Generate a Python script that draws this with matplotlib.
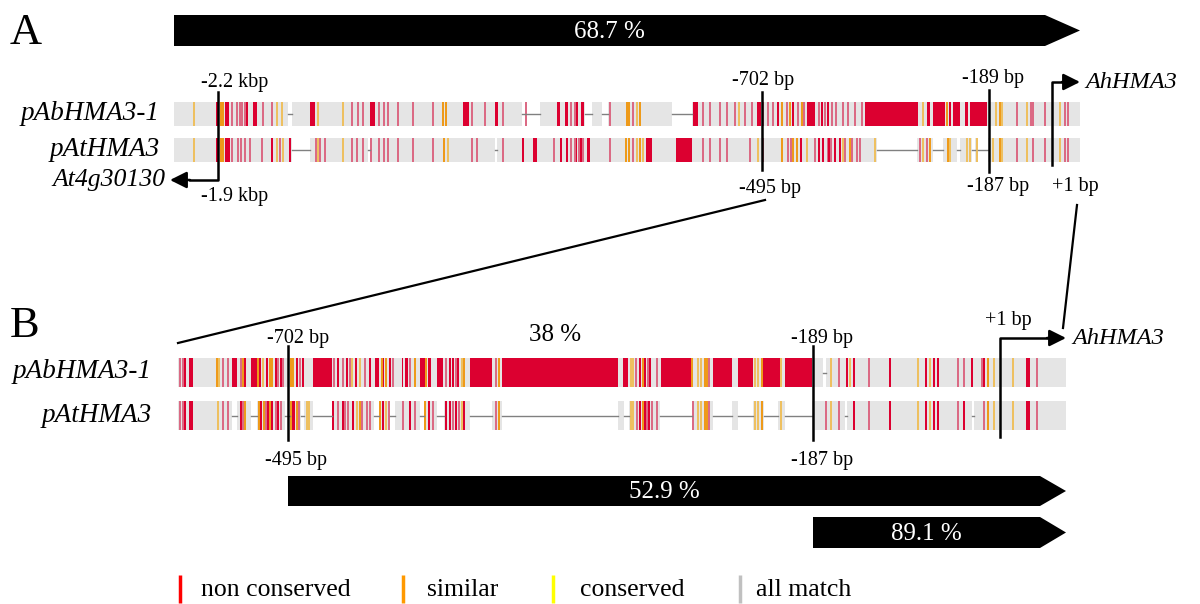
import matplotlib
matplotlib.use("Agg")
import matplotlib.pyplot as plt

plt.rcParams['font.family'] = ['Liberation Serif', 'DejaVu Serif']

# colours
GREY = '#E5E5E5'
LINE = '#808080'
RED = '#DC0030'
PINK = '#DB6A84'
ORANGE = '#EE9A1A'
YELLOW = '#EEC060'

# ---- panel A, pAbHMA3-1 (alignment positions) ----
A1_span = (174, 1080)
A1_gaps = [(288, 292), (522, 540), (585, 592), (602, 608), (672, 692)]
A1_blocks = [(216, 219), (225, 229), (253, 257), (310, 315), (370, 375), (463, 469), (495, 498),
             (557, 560), (565, 568), (575, 578), (581, 584), (693, 698), (757, 761), (807, 815),
             (865, 918), (927, 930), (933, 945), (953, 960), (965, 968), (970, 987)]
A1_red = [247, 778, 793, 822, 828, 950]
A1_pink = [232, 237, 240, 242, 245, 263, 272, 352, 358, 363, 379, 384, 388, 398, 413, 433, 472,
           485, 503, 526, 571, 575, 610, 633, 703, 710, 720, 727, 735, 745, 752, 763, 768, 773,
           787, 798, 804, 819, 825, 832, 836, 843, 848, 855, 862, 1017, 1031, 1033, 1045, 1065, 1068]
A1_orange = [221, 223, 443, 446, 627, 629, 640, 782, 790, 802, 947, 1000]
A1_yellow = [194, 277, 282, 318, 343, 637, 739, 923, 996, 1002, 1027, 1060]

# ---- panel A, pAtHMA3 ----
A2_span = (174, 1080)
A2_gaps = [(292, 310), (368, 370), (495, 497), (877, 917), (933, 943), (957, 960), (972, 975), (978, 988)]
A2_blocks = [(216, 219), (225, 230), (271, 273), (289, 291), (522, 524), (533, 537), (560, 562),
             (566, 568), (574, 577), (580, 583), (587, 590), (646, 652), (676, 692), (800, 802), (818, 820)]
A2_red = [823, 829, 835, 840]
A2_pink = [232, 238, 241, 245, 250, 262, 280, 316, 320, 325, 352, 357, 363, 371, 379, 384, 388, 398,
           413, 433, 472, 477, 503, 554, 571, 575, 579, 583, 610, 633, 703, 710, 720, 727, 750, 763,
           788, 791, 815, 828, 831, 845, 852, 857, 860, 920, 927, 1017, 1033, 1045, 1065, 1068]
A2_orange = [221, 223, 444, 626, 629, 640, 782, 793, 797, 850, 930, 948, 1000]
A2_yellow = [194, 277, 283, 318, 343, 448, 637, 643, 758, 807, 843, 875, 923, 950, 967, 970, 977,
             993, 1002, 1027, 1060]

# ---- panel B, pAbHMA3-1 ----
B1_span = (178, 1066)
B1_gaps = [(823, 826)]
B1_blocks = [(189, 193), (232, 237), (251, 257), (313, 332), (355, 357), (375, 379), (402, 403),
             (405, 408), (420, 425), (428, 431), (437, 443), (470, 492), (502, 618), (623, 628),
             (661, 692), (713, 732), (738, 753), (763, 780), (785, 812)]
B1_red = [185, 245, 260, 267, 276, 281, 297, 303, 338, 347, 370, 383, 390, 450, 453, 458, 464, 640,
          645, 650, 847, 854, 890, 926, 934, 938, 972, 984, 1027, 1029]
B1_pink = [180, 183, 223, 228, 241, 278, 283, 300, 334, 343, 350, 365, 393, 410, 446, 456, 496, 636,
           648, 657, 709, 839, 869, 958, 964, 982, 1037]
B1_orange = [217, 243, 258, 270, 272, 291, 293, 382, 386, 415, 426, 464, 499, 643, 692, 705, 707, 762, 988]
B1_yellow = [219, 263, 352, 360, 462, 631, 633, 698, 701, 755, 758, 781, 831, 850, 918, 930, 994, 1013]

# ---- panel B, pAtHMA3 ----
B2_span = (178, 1066)
B2_gaps = [(232, 237), (251, 257), (285, 290), (301, 304), (313, 332), (374, 379), (390, 395),
           (420, 424), (437, 444), (470, 492), (502, 618), (624, 629), (660, 692), (713, 732),
           (738, 753), (764, 778), (785, 812), (845, 847), (972, 974)]
B2_blocks = [(189, 193), (292, 295), (428, 430)]
B2_red = [185, 241, 261, 268, 272, 278, 333, 343, 353, 383, 410, 446, 450, 456, 463, 464, 640, 645,
          649, 854, 890, 926, 934, 938, 964, 1027, 1029]
B2_pink = [180, 183, 223, 228, 243, 266, 276, 281, 299, 338, 345, 348, 362, 367, 370, 389, 403, 415,
           433, 453, 459, 496, 637, 647, 652, 657, 693, 709, 826, 839, 869, 958, 984, 1037]
B2_orange = [245, 259, 264, 270, 291, 297, 360, 380, 425, 499, 643, 705, 707, 762, 988]
B2_yellow = [218, 307, 309, 357, 386, 462, 631, 633, 698, 701, 755, 758, 781, 831, 918, 930, 994, 1013]

identity = ["68.7 %", "52.9 %", "89.1 %", "38 %"]
legend_labels = ["non conserved", "similar", "conserved", "all match"]
legend_colors = ['#FF0000', '#FF9900', '#FFFF00', '#C0C0C0']

fig = plt.figure(figsize=(12, 6.04), dpi=100)
ax = fig.add_axes([0, 0, 1, 1])
ax.set_xlim(0, 1200)
ax.set_ylim(604, 0)
ax.axis('off')


def track(y, h, span, gaps, blocks, red, pink, orange, yellow):
    ax.broken_barh([(span[0], span[1] - span[0])], (y, h), facecolors=GREY)
    for g0, g1 in gaps:
        ax.broken_barh([(g0, g1 - g0)], (y, h), facecolors='white')
        ax.plot([g0, g1], [y + h / 2] * 2, color=LINE, lw=1)
    ax.broken_barh([(a, b - a) for a, b in blocks], (y, h), facecolors=RED)
    for xs, c in ((pink, PINK), (red, RED), (orange, ORANGE), (yellow, YELLOW)):
        ax.broken_barh([(x - 1, 2) for x in xs], (y, h), facecolors=c)


def big_arrow(x0, x1, y0, y1, head, label):
    yc = (y0 + y1) / 2
    ax.fill([x0, x1 - head, x1, x1 - head, x0], [y0, y0, yc, y1, y1], color='black', lw=0)
    ax.text((x0 + x1 - head) / 2, yc + 1, label, color='white', fontsize=18, ha='center', va='center')


def head(x0, y0, x1, y1):
    ax.annotate('', xy=(x1, y1), xytext=(x0, y0),
                arrowprops=dict(arrowstyle='-|>,head_length=1.0,head_width=0.5', lw=1.8,
                                color='black', shrinkA=0, shrinkB=0))


BP = 14.5

# panel A
ax.text(10, 33, "A", fontsize=32, va='center')
big_arrow(174, 1080, 15, 46, 35, identity[0])
track(102, 24, A1_span, A1_gaps, A1_blocks, A1_red, A1_pink, A1_orange, A1_yellow)
track(138, 24, A2_span, A2_gaps, A2_blocks, A2_red, A2_pink, A2_orange, A2_yellow)
ax.text(160, 114, "pAbHMA3-1", fontsize=19.5, style='italic', ha='right', va='center')
ax.text(160, 150, "pAtHMA3", fontsize=19.5, style='italic', ha='right', va='center')

ax.plot([218, 218, 190], [92, 180, 180], color='black', lw=1.8)
head(190, 180, 170, 180)
ax.text(165, 180, "At4g30130", fontsize=18.5, style='italic', ha='right', va='center')
ax.text(235, 82, "-2.2 kbp", fontsize=BP, ha='center', va='center')
ax.text(235, 196, "-1.9 kbp", fontsize=BP, ha='center', va='center')

ax.plot([762, 762], [92, 170], color='black', lw=1.8)
ax.text(763, 81, "-702 bp", fontsize=BP, ha='center', va='center')
ax.text(770, 188, "-495 bp", fontsize=BP, ha='center', va='center')

ax.plot([989, 989], [90, 172], color='black', lw=1.8)
ax.text(993, 79, "-189 bp", fontsize=BP, ha='center', va='center')
ax.text(998, 187, "-187 bp", fontsize=BP, ha='center', va='center')

ax.plot([1052, 1052, 1062], [165, 82, 82], color='black', lw=1.8)
head(1062, 82, 1080, 82)
ax.text(1075, 187, "+1 bp", fontsize=BP, ha='center', va='center')
ax.text(1085, 82, "AhHMA3", fontsize=17.5, style='italic', ha='left', va='center')

# zoom lines
ax.plot([178, 765], [343, 200], color='black', lw=1.6)
ax.plot([1077, 1063], [205, 328], color='black', lw=1.6)

# panel B
ax.text(10, 326, "B", fontsize=32, va='center')
track(358, 29, B1_span, B1_gaps, B1_blocks, B1_red, B1_pink, B1_orange, B1_yellow)
track(401, 29, B2_span, B2_gaps, B2_blocks, B2_red, B2_pink, B2_orange, B2_yellow)
ax.text(152, 372, "pAbHMA3-1", fontsize=19.5, style='italic', ha='right', va='center')
ax.text(152, 416, "pAtHMA3", fontsize=19.5, style='italic', ha='right', va='center')
ax.text(555, 335, identity[3], fontsize=18, ha='center', va='center')

ax.plot([288, 288], [346, 440], color='black', lw=1.8)
ax.text(298, 338, "-702 bp", fontsize=BP, ha='center', va='center')
ax.text(296, 460, "-495 bp", fontsize=BP, ha='center', va='center')

ax.plot([813, 813], [346, 440], color='black', lw=1.8)
ax.text(822, 338, "-189 bp", fontsize=BP, ha='center', va='center')
ax.text(822, 460, "-187 bp", fontsize=BP, ha='center', va='center')

ax.plot([1000, 1000, 1047], [437, 338, 338], color='black', lw=1.8)
head(1047, 338, 1066, 338)
ax.text(1008, 321, "+1 bp", fontsize=BP, ha='center', va='center')
ax.text(1072, 338, "AhHMA3", fontsize=17.5, style='italic', ha='left', va='center')

big_arrow(288, 1066, 476, 506, 26, identity[1])
big_arrow(813, 1066, 517, 548, 26, identity[2])

# legend
legend_x = [180, 403, 553, 740]
legend_pad = [21, 24, 27, 16]
for lx, pad, lab, col in zip(legend_x, legend_pad, legend_labels, legend_colors):
    ax.plot([lx, lx], [575, 603], color=col, lw=2.5, solid_capstyle='butt')
    ax.text(lx + pad, 590, lab, fontsize=18.5, ha='left', va='center')

fig.savefig("out.png", dpi=100)
